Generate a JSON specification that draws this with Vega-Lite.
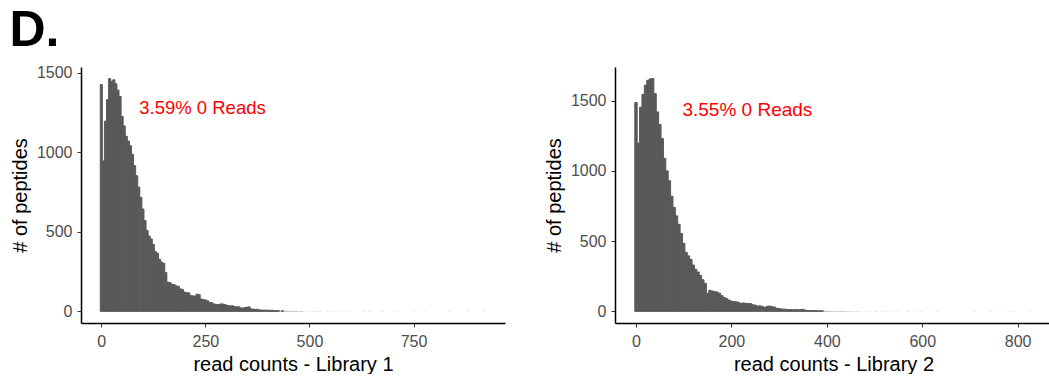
{
  "$schema": "https://vega.github.io/schema/vega-lite/v6.json",
  "padding": {"left": 9, "top": 5, "right": 0, "bottom": 0},
  "background": "white",
  "title": {"text": "D.", "fontSize": 50, "fontWeight": "bold", "font": "Liberation Sans", "color": "#000000", "anchor": "start", "offset": 9, "dx": -1},
  "datasets": {
    "lib1": [
      {"lo": -2.5, "hi": 2.5, "n": 1425}, {"lo": 2.5, "hi": 7.5, "n": 945}, {"lo": 7.5, "hi": 12.5, "n": 1195}, {"lo": 12.5, "hi": 17.5, "n": 1330},
      {"lo": 17.5, "hi": 22.5, "n": 1462}, {"lo": 22.5, "hi": 27.5, "n": 1445}, {"lo": 27.5, "hi": 32.5, "n": 1455}, {"lo": 32.5, "hi": 37.5, "n": 1430},
      {"lo": 37.5, "hi": 42.5, "n": 1390}, {"lo": 42.5, "hi": 47.5, "n": 1350}, {"lo": 47.5, "hi": 52.5, "n": 1225}, {"lo": 52.5, "hi": 57.5, "n": 1165},
      {"lo": 57.5, "hi": 62.5, "n": 1100}, {"lo": 62.5, "hi": 67.5, "n": 1070}, {"lo": 67.5, "hi": 72.5, "n": 1040}, {"lo": 72.5, "hi": 77.5, "n": 987},
      {"lo": 77.5, "hi": 82.5, "n": 915}, {"lo": 82.5, "hi": 87.5, "n": 852}, {"lo": 87.5, "hi": 92.5, "n": 780}, {"lo": 92.5, "hi": 97.5, "n": 716},
      {"lo": 97.5, "hi": 102.5, "n": 643}, {"lo": 102.5, "hi": 107.5, "n": 570}, {"lo": 107.5, "hi": 112.5, "n": 508}, {"lo": 112.5, "hi": 117.5, "n": 473},
      {"lo": 117.5, "hi": 122.5, "n": 455}, {"lo": 122.5, "hi": 127.5, "n": 420}, {"lo": 127.5, "hi": 132.5, "n": 375}, {"lo": 132.5, "hi": 137.5, "n": 365},
      {"lo": 137.5, "hi": 142.5, "n": 327}, {"lo": 142.5, "hi": 147.5, "n": 310}, {"lo": 147.5, "hi": 152.5, "n": 302}, {"lo": 152.5, "hi": 157.5, "n": 244},
      {"lo": 157.5, "hi": 162.5, "n": 183}, {"lo": 162.5, "hi": 167.5, "n": 180}, {"lo": 167.5, "hi": 172.5, "n": 171}, {"lo": 172.5, "hi": 177.5, "n": 168},
      {"lo": 177.5, "hi": 182.5, "n": 160}, {"lo": 182.5, "hi": 187.5, "n": 158}, {"lo": 187.5, "hi": 192.5, "n": 141}, {"lo": 192.5, "hi": 197.5, "n": 138},
      {"lo": 197.5, "hi": 202.5, "n": 121}, {"lo": 202.5, "hi": 207.5, "n": 118}, {"lo": 207.5, "hi": 212.5, "n": 116}, {"lo": 212.5, "hi": 217.5, "n": 99},
      {"lo": 217.5, "hi": 222.5, "n": 97}, {"lo": 222.5, "hi": 227.5, "n": 96}, {"lo": 227.5, "hi": 232.5, "n": 108}, {"lo": 232.5, "hi": 237.5, "n": 105},
      {"lo": 237.5, "hi": 242.5, "n": 78}, {"lo": 242.5, "hi": 247.5, "n": 74}, {"lo": 247.5, "hi": 252.5, "n": 72}, {"lo": 252.5, "hi": 257.5, "n": 66},
      {"lo": 257.5, "hi": 262.5, "n": 57}, {"lo": 262.5, "hi": 267.5, "n": 55}, {"lo": 267.5, "hi": 272.5, "n": 47}, {"lo": 272.5, "hi": 277.5, "n": 44},
      {"lo": 277.5, "hi": 282.5, "n": 42}, {"lo": 282.5, "hi": 287.5, "n": 45}, {"lo": 287.5, "hi": 292.5, "n": 47}, {"lo": 292.5, "hi": 297.5, "n": 44},
      {"lo": 297.5, "hi": 302.5, "n": 40}, {"lo": 302.5, "hi": 307.5, "n": 36}, {"lo": 307.5, "hi": 312.5, "n": 34}, {"lo": 312.5, "hi": 317.5, "n": 35},
      {"lo": 317.5, "hi": 322.5, "n": 30}, {"lo": 322.5, "hi": 327.5, "n": 28}, {"lo": 327.5, "hi": 332.5, "n": 29}, {"lo": 332.5, "hi": 337.5, "n": 22},
      {"lo": 337.5, "hi": 342.5, "n": 20}, {"lo": 342.5, "hi": 347.5, "n": 24}, {"lo": 347.5, "hi": 352.5, "n": 26}, {"lo": 352.5, "hi": 357.5, "n": 28},
      {"lo": 357.5, "hi": 362.5, "n": 15}, {"lo": 362.5, "hi": 367.5, "n": 14}, {"lo": 367.5, "hi": 372.5, "n": 12}, {"lo": 372.5, "hi": 377.5, "n": 13},
      {"lo": 377.5, "hi": 382.5, "n": 9}, {"lo": 382.5, "hi": 387.5, "n": 8}, {"lo": 387.5, "hi": 392.5, "n": 8}, {"lo": 392.5, "hi": 397.5, "n": 7},
      {"lo": 397.5, "hi": 402.5, "n": 8}, {"lo": 402.5, "hi": 407.5, "n": 6}, {"lo": 407.5, "hi": 412.5, "n": 7}, {"lo": 412.5, "hi": 417.5, "n": 5},
      {"lo": 417.5, "hi": 422.5, "n": 4}, {"lo": 422.5, "hi": 427.5, "n": 5}, {"lo": 427.5, "hi": 432.5, "n": 3}, {"lo": 432.5, "hi": 437.5, "n": 4},
      {"lo": 437.5, "hi": 442.5, "n": 3}, {"lo": 442.5, "hi": 447.5, "n": 3}, {"lo": 447.5, "hi": 452.5, "n": 2}, {"lo": 452.5, "hi": 457.5, "n": 3},
      {"lo": 457.5, "hi": 462.5, "n": 2}, {"lo": 462.5, "hi": 467.5, "n": 2}, {"lo": 467.5, "hi": 472.5, "n": 2}, {"lo": 472.5, "hi": 477.5, "n": 1},
      {"lo": 477.5, "hi": 482.5, "n": 2}, {"lo": 482.5, "hi": 487.5, "n": 1}, {"lo": 487.5, "hi": 492.5, "n": 1}, {"lo": 497.5, "hi": 502.5, "n": 1},
      {"lo": 507.5, "hi": 512.5, "n": 1}, {"lo": 512.5, "hi": 517.5, "n": 1}, {"lo": 522.5, "hi": 527.5, "n": 1}, {"lo": 542.5, "hi": 547.5, "n": 1},
      {"lo": 552.5, "hi": 557.5, "n": 1}, {"lo": 572.5, "hi": 577.5, "n": 1}, {"lo": 592.5, "hi": 597.5, "n": 1}, {"lo": 627.5, "hi": 632.5, "n": 1},
      {"lo": 642.5, "hi": 647.5, "n": 1}, {"lo": 672.5, "hi": 677.5, "n": 1}, {"lo": 707.5, "hi": 712.5, "n": 1}, {"lo": 747.5, "hi": 752.5, "n": 1},
      {"lo": 772.5, "hi": 777.5, "n": 1}, {"lo": 832.5, "hi": 837.5, "n": 1}, {"lo": 877.5, "hi": 882.5, "n": 1}, {"lo": 917.5, "hi": 922.5, "n": 1}
    ],
    "lib2": [
      {"lo": -2.5, "hi": 2.5, "n": 1487}, {"lo": 2.5, "hi": 7.5, "n": 1198}, {"lo": 7.5, "hi": 12.5, "n": 1453}, {"lo": 12.5, "hi": 17.5, "n": 1545},
      {"lo": 17.5, "hi": 22.5, "n": 1610}, {"lo": 22.5, "hi": 27.5, "n": 1645}, {"lo": 27.5, "hi": 32.5, "n": 1655}, {"lo": 32.5, "hi": 37.5, "n": 1657},
      {"lo": 37.5, "hi": 42.5, "n": 1550}, {"lo": 42.5, "hi": 47.5, "n": 1420}, {"lo": 47.5, "hi": 52.5, "n": 1330}, {"lo": 52.5, "hi": 57.5, "n": 1230},
      {"lo": 57.5, "hi": 62.5, "n": 1090}, {"lo": 62.5, "hi": 67.5, "n": 1000}, {"lo": 67.5, "hi": 72.5, "n": 930}, {"lo": 72.5, "hi": 77.5, "n": 820},
      {"lo": 77.5, "hi": 82.5, "n": 740}, {"lo": 82.5, "hi": 87.5, "n": 680}, {"lo": 87.5, "hi": 92.5, "n": 620}, {"lo": 92.5, "hi": 97.5, "n": 555},
      {"lo": 97.5, "hi": 102.5, "n": 485}, {"lo": 102.5, "hi": 107.5, "n": 420}, {"lo": 107.5, "hi": 112.5, "n": 395}, {"lo": 112.5, "hi": 117.5, "n": 370},
      {"lo": 117.5, "hi": 122.5, "n": 330}, {"lo": 122.5, "hi": 127.5, "n": 300}, {"lo": 127.5, "hi": 132.5, "n": 280}, {"lo": 132.5, "hi": 137.5, "n": 255},
      {"lo": 137.5, "hi": 142.5, "n": 225}, {"lo": 142.5, "hi": 147.5, "n": 200}, {"lo": 147.5, "hi": 152.5, "n": 128}, {"lo": 152.5, "hi": 157.5, "n": 150},
      {"lo": 157.5, "hi": 162.5, "n": 145}, {"lo": 162.5, "hi": 167.5, "n": 140}, {"lo": 167.5, "hi": 172.5, "n": 138}, {"lo": 172.5, "hi": 177.5, "n": 128},
      {"lo": 177.5, "hi": 182.5, "n": 112}, {"lo": 182.5, "hi": 187.5, "n": 98}, {"lo": 187.5, "hi": 192.5, "n": 92}, {"lo": 192.5, "hi": 197.5, "n": 80},
      {"lo": 197.5, "hi": 202.5, "n": 73}, {"lo": 202.5, "hi": 207.5, "n": 70}, {"lo": 207.5, "hi": 212.5, "n": 68}, {"lo": 212.5, "hi": 217.5, "n": 64},
      {"lo": 217.5, "hi": 222.5, "n": 57}, {"lo": 222.5, "hi": 227.5, "n": 60}, {"lo": 227.5, "hi": 232.5, "n": 57}, {"lo": 232.5, "hi": 237.5, "n": 56},
      {"lo": 237.5, "hi": 242.5, "n": 55}, {"lo": 242.5, "hi": 247.5, "n": 47}, {"lo": 247.5, "hi": 252.5, "n": 44}, {"lo": 252.5, "hi": 257.5, "n": 38},
      {"lo": 257.5, "hi": 262.5, "n": 39}, {"lo": 262.5, "hi": 267.5, "n": 36}, {"lo": 267.5, "hi": 272.5, "n": 27}, {"lo": 272.5, "hi": 277.5, "n": 36},
      {"lo": 277.5, "hi": 282.5, "n": 38}, {"lo": 282.5, "hi": 287.5, "n": 33}, {"lo": 287.5, "hi": 292.5, "n": 31}, {"lo": 292.5, "hi": 297.5, "n": 22},
      {"lo": 297.5, "hi": 302.5, "n": 20}, {"lo": 302.5, "hi": 307.5, "n": 17}, {"lo": 307.5, "hi": 312.5, "n": 16}, {"lo": 312.5, "hi": 317.5, "n": 14},
      {"lo": 317.5, "hi": 322.5, "n": 12}, {"lo": 322.5, "hi": 327.5, "n": 13}, {"lo": 327.5, "hi": 332.5, "n": 11}, {"lo": 332.5, "hi": 337.5, "n": 12},
      {"lo": 337.5, "hi": 342.5, "n": 11}, {"lo": 342.5, "hi": 347.5, "n": 12}, {"lo": 347.5, "hi": 352.5, "n": 15}, {"lo": 352.5, "hi": 357.5, "n": 8},
      {"lo": 357.5, "hi": 362.5, "n": 6}, {"lo": 362.5, "hi": 367.5, "n": 6}, {"lo": 367.5, "hi": 372.5, "n": 5}, {"lo": 372.5, "hi": 377.5, "n": 5},
      {"lo": 377.5, "hi": 382.5, "n": 4}, {"lo": 382.5, "hi": 387.5, "n": 4}, {"lo": 387.5, "hi": 392.5, "n": 4}, {"lo": 392.5, "hi": 397.5, "n": 3},
      {"lo": 397.5, "hi": 402.5, "n": 3}, {"lo": 402.5, "hi": 407.5, "n": 3}, {"lo": 407.5, "hi": 412.5, "n": 2}, {"lo": 412.5, "hi": 417.5, "n": 2},
      {"lo": 417.5, "hi": 422.5, "n": 2}, {"lo": 422.5, "hi": 427.5, "n": 2}, {"lo": 427.5, "hi": 432.5, "n": 2}, {"lo": 432.5, "hi": 437.5, "n": 2},
      {"lo": 437.5, "hi": 442.5, "n": 1}, {"lo": 442.5, "hi": 447.5, "n": 2}, {"lo": 447.5, "hi": 452.5, "n": 1}, {"lo": 452.5, "hi": 457.5, "n": 1},
      {"lo": 457.5, "hi": 462.5, "n": 1}, {"lo": 462.5, "hi": 467.5, "n": 1}, {"lo": 467.5, "hi": 472.5, "n": 1}, {"lo": 477.5, "hi": 482.5, "n": 1},
      {"lo": 487.5, "hi": 492.5, "n": 1}, {"lo": 497.5, "hi": 502.5, "n": 1}, {"lo": 502.5, "hi": 507.5, "n": 1}, {"lo": 512.5, "hi": 517.5, "n": 1},
      {"lo": 522.5, "hi": 527.5, "n": 1}, {"lo": 532.5, "hi": 537.5, "n": 1}, {"lo": 547.5, "hi": 552.5, "n": 1}, {"lo": 567.5, "hi": 572.5, "n": 1},
      {"lo": 587.5, "hi": 592.5, "n": 1}, {"lo": 597.5, "hi": 602.5, "n": 1}, {"lo": 627.5, "hi": 632.5, "n": 1}, {"lo": 707.5, "hi": 712.5, "n": 1},
      {"lo": 742.5, "hi": 747.5, "n": 1}, {"lo": 777.5, "hi": 782.5, "n": 1}, {"lo": 787.5, "hi": 792.5, "n": 1}, {"lo": 822.5, "hi": 827.5, "n": 1}
    ]
  },
  "spacing": 39,
  "hconcat": [
    {
      "width": 424,
      "height": 256,
      "layer": [
        {
          "data": {"name": "lib1"},
          "mark": {"type": "rect", "color": "#595959", "stroke": "#595959"},
          "encoding": {
            "x": {"field": "lo", "type": "quantitative", "scale": {"domain": [-48.8, 969.8], "nice": false, "zero": false},
                  "axis": {"values": [0, 250, 500, 750], "format": "d", "title": "read counts - Library 1"}},
            "x2": {"field": "hi"},
            "y": {"field": "n", "type": "quantitative", "scale": {"domain": [-73.1, 1535.1], "nice": false, "zero": false},
                  "axis": {"values": [0, 500, 1000, 1500], "format": "d", "title": "# of peptides"}},
            "y2": {"datum": 0},
            "strokeWidth": {"condition": {"test": "datum.n < 4", "value": 0}, "value": 1}
          }
        },
        {
          "data": {"values": [{"label": "3.59% 0 Reads"}]},
          "mark": {"type": "text", "color": "#FF0000", "fontSize": 18.5, "font": "Liberation Sans", "align": "center", "baseline": "middle"},
          "encoding": {
            "text": {"field": "label", "type": "nominal"},
            "x": {"datum": 243, "type": "quantitative"},
            "y": {"datum": 1277, "type": "quantitative"}
          }
        }
      ]
    },
    {
      "width": 437,
      "height": 256,
      "layer": [
        {
          "data": {"name": "lib2"},
          "mark": {"type": "rect", "color": "#595959", "stroke": "#595959"},
          "encoding": {
            "x": {"field": "lo", "type": "quantitative", "scale": {"domain": [-44, 872], "nice": false, "zero": false},
                  "axis": {"values": [0, 200, 400, 600, 800], "format": "d", "title": "read counts - Library 2"}},
            "x2": {"field": "hi"},
            "y": {"field": "n", "type": "quantitative", "scale": {"domain": [-82.9, 1739.9], "nice": false, "zero": false},
                  "axis": {"values": [0, 500, 1000, 1500], "format": "d", "title": "# of peptides"}},
            "y2": {"datum": 0},
            "strokeWidth": {"condition": {"test": "datum.n < 4", "value": 0}, "value": 1}
          }
        },
        {
          "data": {"values": [{"label": "3.55% 0 Reads"}]},
          "mark": {"type": "text", "color": "#FF0000", "fontSize": 19, "font": "Liberation Sans", "align": "center", "baseline": "middle"},
          "encoding": {
            "text": {"field": "label", "type": "nominal"},
            "x": {"datum": 233.5, "type": "quantitative"},
            "y": {"datum": 1432, "type": "quantitative"}
          }
        }
      ]
    }
  ],
  "config": {
    "view": {"stroke": null},
    "font": "Liberation Sans",
    "axis": {
      "grid": false,
      "domainColor": "#000000",
      "domainWidth": 1.5,
      "tickColor": "#333333",
      "tickSize": 4,
      "tickWidth": 1,
      "labelColor": "#4D4D4D",
      "labelFontSize": 16,
      "labelFont": "Liberation Sans",
      "labelPadding": 5,
      "titleFont": "Liberation Sans",
      "titleFontSize": 20,
      "titleFontWeight": "normal",
      "titleColor": "#000000",
      "titlePadding": 5
    },
    "axisX": {"labelPadding": 6},
    "axisY": {"labelPadding": 5, "titlePadding": 6}
  }
}
